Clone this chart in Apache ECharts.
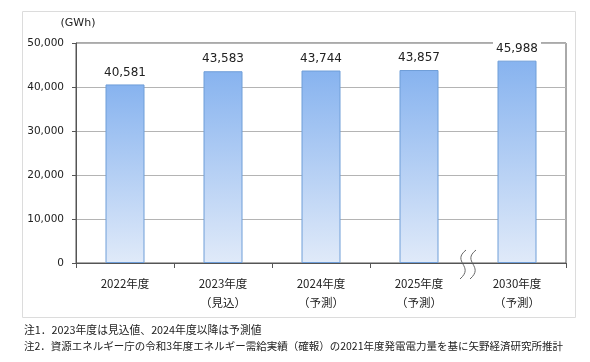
<!DOCTYPE html>
<html><head><meta charset="utf-8">
<script src="https://cdn.jsdelivr.net/npm/echarts@6/dist/echarts.min.js"></script>
<style>html,body{margin:0;padding:0;background:#fff}#c{width:590px;height:362px}</style>
</head><body><div id="c"></div>
<script>
const categories = ['2022年度', '2023年度\n（見込）', '2024年度\n（予測）', '2025年度\n（予測）', '2030年度\n（予測）'];
const values = [40581, 43583, 43744, 43857, 45988];
const yTicks = { min: 0, max: 50000, interval: 10000 };
const unitLabel = '(GWh)';
const notes = [
  '注1．2023年度は見込値、2024年度以降は予測値',
  '注2．資源エネルギー庁の令和3年度エネルギー需給実績（確報）の2021年度発電電力量を基に矢野経済研究所推計'
];

const chart = echarts.init(document.getElementById('c'));
const numFmt = v => String(v).replace(/\B(?=(\d{3})+(?!\d))/g, ',');
const font = '"DejaVu Sans", "Noto Sans CJK JP", sans-serif';
const cjk = '"Noto Sans CJK JP", "DejaVu Sans", sans-serif';

chart.setOption({
  animation: false,
  grid: { left: 76, right: 24, top: 43, bottom: 99, show: true, borderColor: '#555', borderWidth: 1, backgroundColor: 'transparent' },
  xAxis: {
    type: 'category', data: categories,
    axisLine: { lineStyle: { color: '#555', width: 1 } },
    axisTick: { show: true, length: 5, lineStyle: { color: '#555' }, interval: (i) => i !== 4 },
    axisLabel: { color: '#222', fontSize: 11.5, fontFamily: cjk, lineHeight: 19, margin: 11 }
  },
  yAxis: {
    type: 'value', min: yTicks.min, max: yTicks.max, interval: yTicks.interval,
    name: unitLabel, nameLocation: 'end', nameGap: 14,
    nameTextStyle: { color: '#222', fontSize: 11, fontFamily: font, align: 'center', padding: [0, 0, 0, 4] },
    axisLine: { show: true, lineStyle: { color: '#555' } },
    axisTick: { show: true, length: 4, lineStyle: { color: '#555' } },
    axisLabel: { color: '#222', fontSize: 10.5, fontFamily: font, margin: 12, formatter: numFmt },
    splitLine: { lineStyle: { color: '#b4b4b4', width: 1 } }
  },
  series: [{
    type: 'bar', data: values, barWidth: 39,
    itemStyle: {
      color: new echarts.graphic.LinearGradient(0, 0, 0, 1, [
        { offset: 0, color: '#87b3ef' }, { offset: 1, color: '#e0eaf9' }
      ]),
      borderColor: '#6f9ed8', borderWidth: 1
    },
    label: {
      show: true, position: 'top', distance: 5, color: '#222', fontSize: 12, fontFamily: font,
      formatter: p => numFmt(p.value), backgroundColor: '#fff', padding: [1, 3]
    }
  }]
});

// break marks between last two categories
const p3 = chart.convertToPixel({ xAxisIndex: 0 }, 3);
const p4 = chart.convertToPixel({ xAxisIndex: 0 }, 4);
const y0 = chart.convertToPixel({ yAxisIndex: 0 }, 0);
const bx = (p3 + p4) / 2;
function wave(x) {
  return {
    type: 'bezierCurve',
    shape: { x1: x + 3, y1: y0 - 13, cpx1: x - 12, cpy1: y0 - 1, cpx2: x + 12, cpy2: y0 + 3, x2: x - 3, y2: y0 + 16 },
    style: { stroke: '#666', lineWidth: 1, fill: null }
  };
}
chart.setOption({
  graphic: [
    { type: 'rect', shape: { x: 22.5, y: 11.5, width: 553, height: 306 }, style: { fill: null, stroke: '#dcdcdc', lineWidth: 1 }, z: -1 },
    wave(bx - 5), wave(bx + 5),
    { type: 'text', left: 24, top: 325, style: { text: notes[0], fontSize: 10.8, fontFamily: cjk, fill: '#222' } },
    { type: 'text', left: 24, top: 341, style: { text: notes[1], fontSize: 10.5, fontFamily: cjk, fill: '#222' } }
  ]
});
</script></body></html>
